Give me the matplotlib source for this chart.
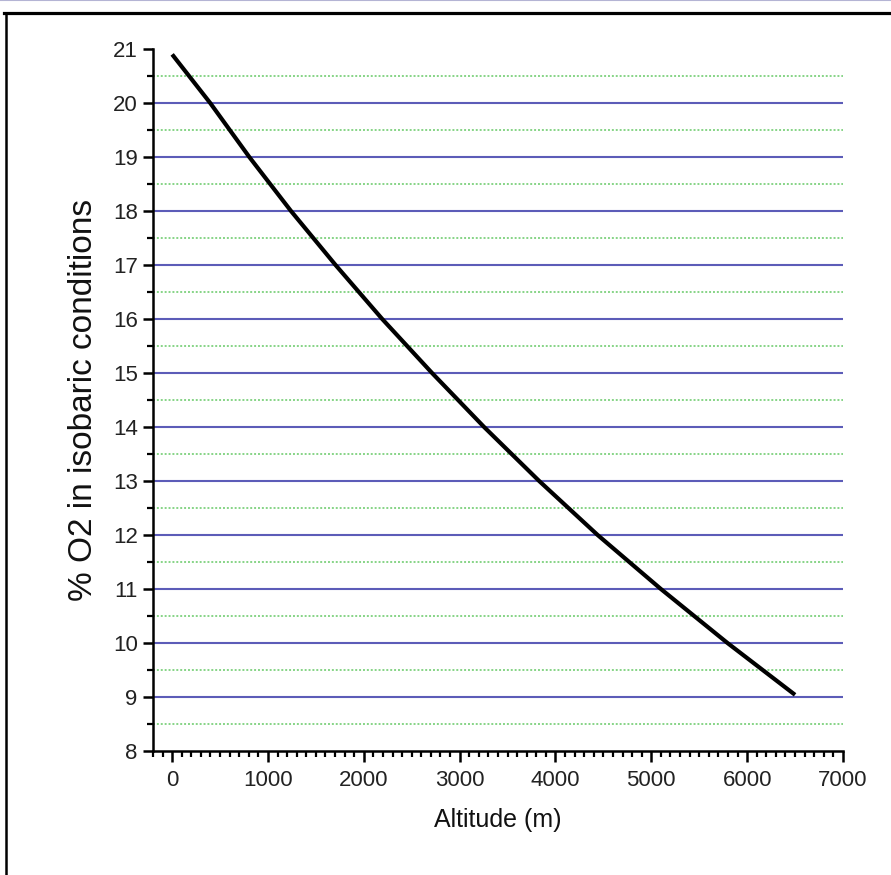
import matplotlib
matplotlib.use('Agg')
import matplotlib.pyplot as plt
from matplotlib.lines import Line2D
from matplotlib.ticker import MultipleLocator

# values
altitude = [0, 397, 805, 1240, 1705, 2192, 2712, 3255, 3830, 4440, 5100, 5795, 6500]
o2_pct = [20.9, 20, 19, 18, 17, 16, 15, 14, 13, 12, 11, 10, 9.04]
x_ticks = [0, 1000, 2000, 3000, 4000, 5000, 6000, 7000]
y_ticks = list(range(8, 22))
grid_major = list(range(9, 21))
grid_minor = [v + 0.5 for v in range(8, 21)]

plt.rcParams['font.family'] = ['Liberation Sans', 'DejaVu Sans']

fig = plt.figure(figsize=(8.91, 8.75), dpi=100)
ax = fig.add_axes([0.1717, 0.1417, 0.9461 - 0.1717, 0.944 - 0.1417])

ax.set_xlim(-200, 7000)
ax.set_ylim(8, 21)

ax.plot(altitude, o2_pct, color='black', lw=3.0, solid_capstyle='butt', zorder=5)

# horizontal guide lines (none at the top value 21)
for g in grid_minor:
    ax.axhline(g, color='#86d486', lw=1.4, linestyle=(0, (1, 1)), zorder=1)
for g in grid_major:
    ax.axhline(g, color='#5c5cb8', lw=1.5, zorder=2)

ax.set_xticks(x_ticks)
ax.set_yticks(y_ticks)
ax.xaxis.set_minor_locator(MultipleLocator(100))
ax.yaxis.set_minor_locator(MultipleLocator(0.5))

for s in ['top', 'right']:
    ax.spines[s].set_visible(False)
for s in ['left', 'bottom']:
    ax.spines[s].set_linewidth(1.8)
    ax.spines[s].set_color('black')

ax.tick_params(axis='both', which='major', direction='out', width=1.8, colors='black',
               labelcolor='#222222', labelsize=16)
ax.tick_params(axis='x', which='major', length=8, pad=6)
ax.tick_params(axis='x', which='minor', length=4.5, width=1.6)
ax.tick_params(axis='y', which='major', length=7, pad=4)
ax.tick_params(axis='y', which='minor', length=4, width=1.6)

ax.set_xlabel('Altitude (m)', fontsize=18, color='#111111', labelpad=12)
ax.set_ylabel('% O2 in isobaric conditions', fontsize=24, color='#111111', labelpad=10)

# page frame around the chart
fig.add_artist(Line2D([0, 1], [0.9995, 0.9995], transform=fig.transFigure, color='#b4b4d4', lw=1.5))
fig.add_artist(Line2D([0.005, 1], [0.985, 0.985], transform=fig.transFigure, color='black', lw=2.3))
fig.add_artist(Line2D([0.007, 0.007], [0, 0.985], transform=fig.transFigure, color='black', lw=1.8))

fig.savefig('out.png', dpi=100)
